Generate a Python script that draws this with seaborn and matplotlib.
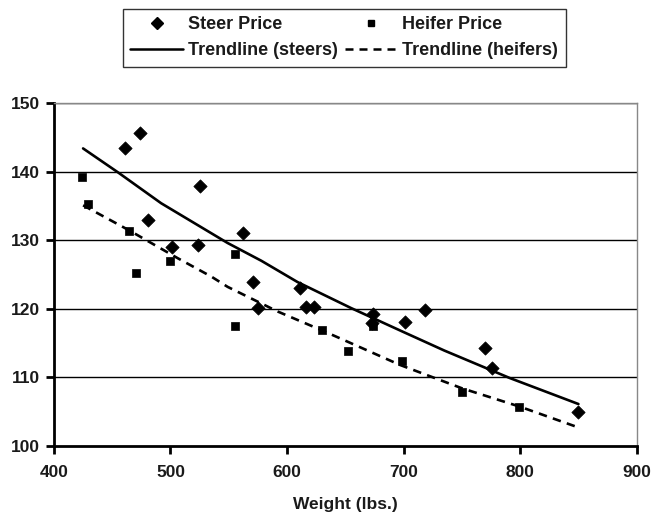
import numpy as np
import pandas as pd
import seaborn as sns
import matplotlib
matplotlib.use("Agg")
import matplotlib.pyplot as plt
from matplotlib.lines import Line2D

steer_weight = [461, 474, 481, 501, 525, 524, 562, 571, 575, 611, 616, 623, 673, 674, 701, 718, 770, 776, 850]
steer_price = [143.4, 145.6, 132.9, 129.0, 137.9, 129.3, 131.0, 123.9, 120.1, 123.0, 120.3, 120.3, 117.9, 119.3, 118.1, 119.8, 114.3, 111.4, 105.0]
heifer_weight = [424, 429, 464, 470, 500, 555, 555, 630, 652, 674, 699, 750, 799]
heifer_price = [139.2, 135.3, 131.3, 125.2, 127.0, 128.0, 117.5, 116.9, 113.8, 117.5, 112.4, 107.9, 105.6]

trend_steer_weight = [425, 455, 492, 549, 578, 609, 655, 700, 735, 791, 850]
trend_steer_price = [143.4, 139.9, 135.4, 129.6, 127.0, 123.9, 120.1, 116.6, 113.9, 109.9, 106.1]
trend_heifer_weight = [425, 465, 506, 535, 549, 592, 632, 697, 750, 800, 848]
trend_heifer_price = [135.1, 131.4, 127.4, 124.7, 123.2, 119.6, 116.7, 111.8, 108.4, 105.7, 102.8]

x_ticks = [400, 500, 600, 700, 800, 900]
y_ticks = [100, 110, 120, 130, 140, 150]
legend_labels = ["Steer Price", "Trendline (steers)", "Heifer Price", "Trendline (heifers)"]

sns.set_theme(style="white")
plt.rcParams['font.family'] = ['Liberation Sans', 'DejaVu Sans']

fig = plt.figure(figsize=(6.66, 5.16), dpi=100)
ax = fig.add_axes([0.081, 0.136, 0.875, 0.664])

steer = pd.DataFrame({"w": steer_weight, "p": steer_price})
heifer = pd.DataFrame({"w": heifer_weight, "p": heifer_price})
tsteer = pd.DataFrame({"w": trend_steer_weight, "p": trend_steer_price})
theifer = pd.DataFrame({"w": trend_heifer_weight, "p": trend_heifer_price})

dash = (3.2, 2.4)
sns.lineplot(data=tsteer, x="w", y="p", color="black", lw=1.9, ax=ax, zorder=2, sort=False)
sns.lineplot(data=theifer, x="w", y="p", color="black", lw=1.9, ax=ax, zorder=2, sort=False,
             linestyle=(0, dash))
sns.scatterplot(data=steer, x="w", y="p", marker="D", s=46, color="black", edgecolor="black",
                linewidth=0.5, ax=ax, zorder=3)
sns.scatterplot(data=heifer, x="w", y="p", marker="s", s=32, color="black", edgecolor="black",
                linewidth=0.5, ax=ax, zorder=3)

ax.set_xlim(400, 900)
ax.set_ylim(100, 150)
ax.set_xticks(x_ticks)
ax.set_yticks(y_ticks)
for y in y_ticks[1:]:
    ax.axhline(y, color="black", lw=1.0, zorder=1)

for s in ["left", "bottom"]:
    ax.spines[s].set_color("black")
    ax.spines[s].set_linewidth(2.0)
for s in ["right", "top"]:
    ax.spines[s].set_color("#888888")
    ax.spines[s].set_linewidth(1.0)
ax.tick_params(axis="both", direction="out", length=6, width=2.0, color="black",
               labelsize=12.5, bottom=True, left=True)
ax.tick_params(axis="x", pad=8)
ax.tick_params(axis="y", pad=4)
for lbl in ax.get_xticklabels() + ax.get_yticklabels():
    lbl.set_fontweight("bold")
    lbl.set_color("#1a1a1a")
ax.set_xlabel("Weight (lbs.)", fontsize=12.5, fontweight="bold", labelpad=12, color="#1a1a1a")
ax.set_ylabel("")

handles = [
    Line2D([], [], marker="D", color="black", ls="none", markersize=6),
    Line2D([], [], color="black", lw=1.8),
    Line2D([], [], marker="s", color="black", ls="none", markersize=5),
    Line2D([], [], color="black", lw=1.8, ls=(0, dash)),
]
leg = fig.legend(handles, legend_labels, ncol=2, loc="upper center", bbox_to_anchor=(0.517, 0.983),
                 frameon=True, fancybox=False, edgecolor="black", borderpad=0.42,
                 handlelength=2.9, columnspacing=0.4, handletextpad=0.28, labelspacing=0.5,
                 borderaxespad=0.0, prop={"weight": "bold", "size": 13})
leg.get_frame().set_linewidth(1.0)
for t in leg.get_texts():
    t.set_color("#1a1a1a")

fig.savefig("out.png", dpi=100, facecolor="white")
